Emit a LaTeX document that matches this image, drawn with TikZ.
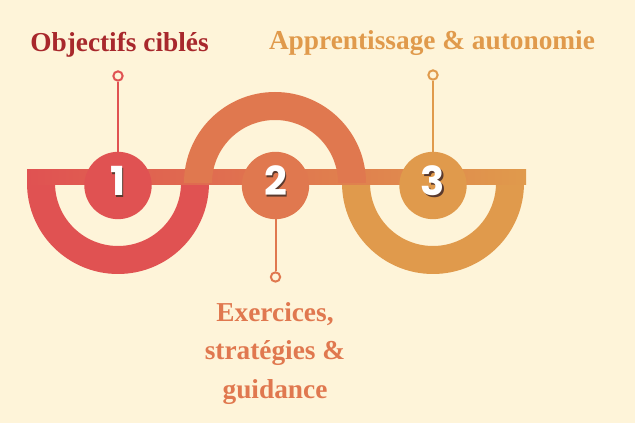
\documentclass[tikz,border=0pt]{standalone}
\usepackage{fontspec}
\setmainfont{Liberation Serif}
\newfontfamily\numfont{Poppins}
\usetikzlibrary{positioning}
\definecolor{bgc}{HTML}{FEF4D9}
\definecolor{redc}{HTML}{E05252}
\definecolor{orgc}{HTML}{E0784F}
\definecolor{ylwc}{HTML}{E09A4C}
\definecolor{ttlred}{HTML}{A8282C}
\definecolor{shd}{HTML}{5A3A2E}

\begin{document}
\begin{tikzpicture}[x=0.75pt,y=-0.75pt,
  disc/.style={circle,inner sep=0pt,minimum size=50.5pt},
  ring/.style={circle,draw,line width=1.5pt,inner sep=0pt,minimum size=7pt,fill=bgc},
  stem/.style={line width=1.5pt},
  num/.style={font=\numfont\bfseries\fontsize{30}{30}\selectfont,inner sep=0pt},
  ttl/.style={font=\bfseries\fontsize{20.5}{29}\selectfont,inner sep=0pt,align=center}]
  \fill[bgc] (0,0) rectangle (635,423);
  \useasboundingbox (0,0) rectangle (635,423);
  \fill[redc] (27,183) arc[start angle=180,end angle=0,radius=91] -- (181,183)
    arc[start angle=0,end angle=180,radius=63] -- cycle;
  \fill[ylwc] (342,183) arc[start angle=180,end angle=0,radius=91] -- (496,183)
    arc[start angle=0,end angle=180,radius=63] -- cycle;
  \shade[left color=redc,middle color=orgc,right color=ylwc] (27,169.3) rectangle (526,184.3);
  \fill[orgc] (184,183) arc[start angle=180,end angle=360,radius=91] -- (338,183)
    arc[start angle=360,end angle=180,radius=63] -- cycle;

  \node[disc,fill=redc] (c1) at (118,185.5) {};
  \node[disc,fill=orgc] (c2) at (275.5,185.5) {};
  \node[disc,fill=ylwc] (c3) at (433,185.5) {};

  \node[ring,draw=redc] (r1) at (118,76) {};
  \node[ring,draw=orgc] (r2) at (275.5,277) {};
  \node[ring,draw=ylwc] (r3) at (433,75) {};
  \draw[stem,redc] (c1) -- (r1);
  \draw[stem,orgc] (c2) -- (r2);
  \draw[stem,ylwc] (c3) -- (r3);

  \node[num,text=shd] (n1s) at (119.5,182.5) {1};
  \node[num,text=white] (n1) at (118,181) {1};
  \node[num,text=shd] (n2s) at (277,182.5) {2};
  \node[num,text=white] (n2) at (275.5,181) {2};
  \node[num,text=shd] (n3s) at (434.5,182.5) {3};
  \node[num,text=white] (n3) at (433,181) {3};

  \node[ttl,text=ttlred,anchor=base] (t1) at (119.5,52) {Objectifs ciblés};
  \node[ttl,text=ylwc,anchor=base] (t3) at (432,50) {Apprentissage \& autonomie};
  \node[ttl,text=orgc,anchor=north] (t2) at (275,302) {Exercices,\\stratégies \&\\guidance};
\end{tikzpicture}
\end{document}
